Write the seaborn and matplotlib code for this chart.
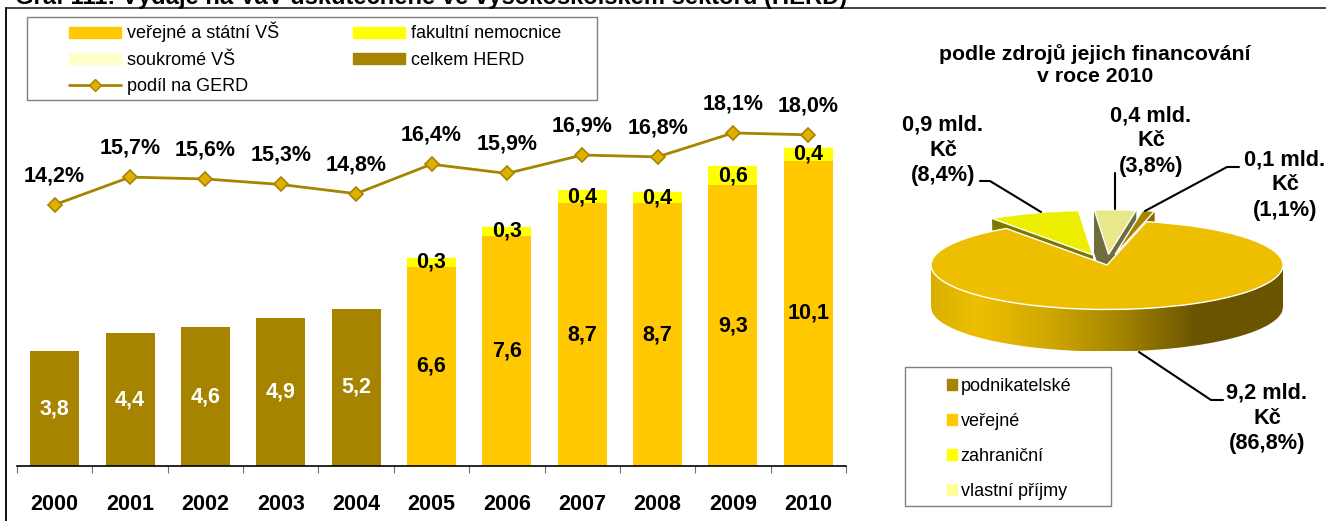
import numpy as np
import pandas as pd
import matplotlib
matplotlib.use('Agg')
import matplotlib.pyplot as plt
from matplotlib.colors import to_rgb
from matplotlib.lines import Line2D
from matplotlib.patches import Patch, Polygon, Rectangle, Wedge
import seaborn as sns

# --- Data ---
years = ['2000', '2001', '2002', '2003', '2004', '2005', '2006', '2007', '2008', '2009', '2010']
celkem = [3.8, 4.4, 4.6, 4.9, 5.2, 0, 0, 0, 0, 0, 0]
verejne = [0, 0, 0, 0, 0, 6.6, 7.6, 8.7, 8.7, 9.3, 10.1]
fakultni = [0, 0, 0, 0, 0, 0.3, 0.33, 0.43, 0.37, 0.63, 0.43]
soukrome = [0, 0, 0, 0, 0, 0.02, 0.02, 0.02, 0.02, 0.02, 0.02]
podil_gerd = [14.2, 15.7, 15.6, 15.3, 14.8, 16.4, 15.9, 16.9, 16.8, 18.1, 18.0]

zdroje = ['podnikatelské', 'veřejné', 'zahraniční', 'vlastní příjmy']
zdroje_pct = [1.1, 86.8, 8.4, 3.8]

# --- Layout (pixels of the 1326x521 picture) ---
W, H = 1326, 521
GOLD, ORANGE, YELLOW, PALE, DARK = '#a68400', '#ffc800', '#ffff00', '#ffffcc', '#a68400'


def fx(x):
    return x / W


def fy(y):
    return 1 - y / H


def add_axes_px(x0, y0, x1, y1):
    return fig.add_axes([fx(x0), fy(y1), (x1 - x0) / W, (y1 - y0) / H])


sns.set_theme(style='white')
plt.rcParams['font.family'] = ['Liberation Sans', 'DejaVu Sans']
plt.rcParams['text.color'] = 'black'

fig = plt.figure(figsize=(W / 100, H / 100), dpi=100)
df = pd.DataFrame({'rok': years, 'celkem': celkem, 'verejne': verejne,
                   'fakultni': fakultni, 'soukrome': soukrome})

# --- Bars ---
ax = add_axes_px(17, 100, 846, 466)
stack = [('celkem', DARK, np.zeros(len(years))),
         ('verejne', ORANGE, np.zeros(len(years))),
         ('fakultni', YELLOW, np.array(verejne)),
         ('soukrome', PALE, np.array(verejne) + np.array(fakultni))]
for col, colour, bottom in stack:
    sns.barplot(data=df, x='rok', y=col, color=colour, saturation=1, width=0.65,
                bottom=bottom, linewidth=0, ax=ax)

for container, col, colour in zip(ax.containers[:3], ['celkem', 'verejne', 'fakultni'],
                                  ['white', 'black', 'black']):
    labels = [f'{v:.1f}'.replace('.', ',') if v > 0 else '' for v in df[col]]
    ax.bar_label(container, labels=labels, label_type='center', color=colour,
                 fontsize=15.5, fontweight='bold')

ax.set_xlim(-0.5, 10.5)
ax.set_ylim(0, 366 / 30.2)
ax.set_xlabel('')
ax.set_ylabel('')
ax.set_yticks([])
ax.set_xticks(range(len(years)))
ax.set_xticks(np.arange(-0.5, 11), minor=True)
ax.tick_params(axis='x', which='major', length=0, pad=20.5, labelsize=15.5)
ax.tick_params(axis='x', which='minor', length=5, width=0.8, color='#707070', bottom=True)
for label in ax.get_xticklabels():
    label.set_fontweight('bold')
    label.set_color('black')
sns.despine(ax=ax, left=True, top=True, right=True)
ax.spines['bottom'].set_color('black')
ax.spines['bottom'].set_linewidth(1.2)
ax.patch.set_alpha(0)

# --- Share of GERD ---
ax2 = add_axes_px(17, 100, 846, 466)
ax2.patch.set_alpha(0)
sns.lineplot(x=np.arange(len(years)), y=podil_gerd, color=GOLD, linewidth=2, marker='D',
             markersize=7, markerfacecolor='#e0b000', markeredgecolor=GOLD,
             markeredgewidth=1.2, errorbar=None, ax=ax2)
ax2.set_xlim(-0.5, 10.5)
ax2.set_ylim(0, 366 / 18.4)
ax2.axis('off')
for i, v in enumerate(podil_gerd):
    ax2.annotate(f'{v:.1f}%'.replace('.', ','), (i, v), xytext=(0, 21), textcoords='offset points',
                 ha='center', va='center', fontsize=15.5, fontweight='bold', color='black')

# --- 3D pie ---
CX, CY, RX, RY, DEPTH = 1107, 265, 176, 44.5, 42
ax3 = add_axes_px(CX - 207, CY - 74, CX + 207, CY + 106)
wedges, _ = ax3.pie(zdroje_pct, explode=[0.24, 0, 0.24, 0.24], startangle=81, counterclock=False,
                    colors=['#a68400', '#eebf00', '#eeee00', '#e8e88a'])

depth = DEPTH / RY
side_colours = ['#8a6c00', None, '#7a7a00', '#6f6c3f']
for wedge, side in zip(wedges, side_colours):
    if side is None:
        wedge.set_zorder(5)
        continue
    wedge.set_zorder(3)
    for d in np.linspace(depth, 0.02, 40):
        ax3.add_patch(Wedge((wedge.center[0], wedge.center[1] - d), wedge.r, wedge.theta1,
                            wedge.theta2, facecolor=side, edgecolor=side, linewidth=0.5, zorder=2))

# rim of the main slice, shaded from left to right
rim_x = [-1.0, -0.74, -0.34, 0.04, 0.51, 1.0]
rim_rgb = np.array([to_rgb(c) for c in ['#d8b000', '#eebf00', '#d0a800', '#a88800', '#6b5400', '#6b5400']])
xs = np.linspace(-1, 1, 400)
gradient = np.stack([np.interp(xs, rim_x, rim_rgb[:, k]) for k in range(3)], axis=1)[np.newaxis, :, :]
rim = ax3.imshow(gradient, extent=(-1, 1, -1 - depth, 0), aspect='auto', zorder=4, interpolation='bilinear')
arc = -np.sqrt(1 - xs ** 2)
outline = np.vstack([np.column_stack([xs, arc - depth]), np.column_stack([xs[::-1], arc[::-1]])])
rim_clip = Polygon(outline, transform=ax3.transData, closed=True)
rim.set_clip_path(rim_clip)

ax3.set_aspect('auto')
ax3.set_xlim(-207 / RX, 207 / RX)
ax3.set_ylim(-106 / RY, 74 / RY)
ax3.axis('off')

# --- Overlay: frame, titles, legends, pie labels ---
ov = fig.add_axes([0, 0, 1, 1])
ov.set_xlim(0, W)
ov.set_ylim(H, 0)
ov.axis('off')
ov.patch.set_alpha(0)
ov.plot([6, W], [8, 8], color='#101010', lw=1.1)
ov.plot([6, 6], [8, H], color='#101010', lw=1.4)

ov.text(15, 4, 'Graf 111: Výdaje na VaV uskutečněné ve vysokoškolském sektoru (HERD)',
        fontsize=17.15, fontweight='bold', va='baseline', ha='left', clip_on=False)
ov.text(1095, 65, 'podle zdrojů jejich financování\nv roce 2010', fontsize=15.3, fontweight='bold',
        ha='center', va='center', linespacing=1.2)

ov.add_patch(Rectangle((27, 17), 570, 83, fill=False, edgecolor='#808080', lw=1))
ov.add_patch(Rectangle((905, 367), 206, 139, fill=False, edgecolor='#808080', lw=1))

pie_labels = [('0,9 mld.\nKč\n(8,4%)', 943, 150), ('0,4 mld.\nKč\n(3,8%)', 1151, 141),
              ('0,1 mld.\nKč\n(1,1%)', 1285, 185), ('9,2 mld.\nKč\n(86,8%)', 1267, 418)]
for text, x, y in pie_labels:
    ov.text(x, y, text, fontsize=15.7, fontweight='bold', ha='center', va='center', linespacing=1.28)

leaders = [([980, 990, 1041], [181, 181, 212]), ([1115, 1115], [173, 209]),
           ([1239, 1227, 1145], [167, 167, 211]), ([1139, 1211, 1223], [352, 400, 400])]
for lx, ly in leaders:
    ov.plot(lx, ly, color='black', lw=1.5, zorder=6)

bar_handles = [Patch(color=ORANGE, label='veřejné a státní VŠ'),
               Patch(color=PALE, label='soukromé VŠ'),
               Line2D([], [], color=GOLD, lw=2, marker='D', markersize=6, markerfacecolor='#e0b000',
                      markeredgecolor=GOLD, label='podíl na GERD'),
               Patch(color=YELLOW, label='fakultní nemocnice'),
               Patch(color=DARK, label='celkem HERD')]
fig.legend(handles=bar_handles, ncol=2, loc='upper left', bbox_to_anchor=(fx(69), fy(22)),
           frameon=False, fontsize=13, borderpad=0, borderaxespad=0, handlelength=2.89,
           handleheight=0.55, handletextpad=0.33, columnspacing=4.1, labelspacing=0.52, numpoints=1)

pie_handles = [Patch(color=c, label=n) for c, n in
               zip(['#a68400', '#ffc800', '#ffff00', '#ffff99'], zdroje)]
fig.legend(handles=pie_handles, loc='upper left', bbox_to_anchor=(fx(947), fy(378)), frameon=False,
           fontsize=13, borderpad=0, borderaxespad=0, handlelength=0.55, handleheight=0.55,
           handletextpad=0.2, labelspacing=0.99)

fig.savefig('out.png', dpi=100)
